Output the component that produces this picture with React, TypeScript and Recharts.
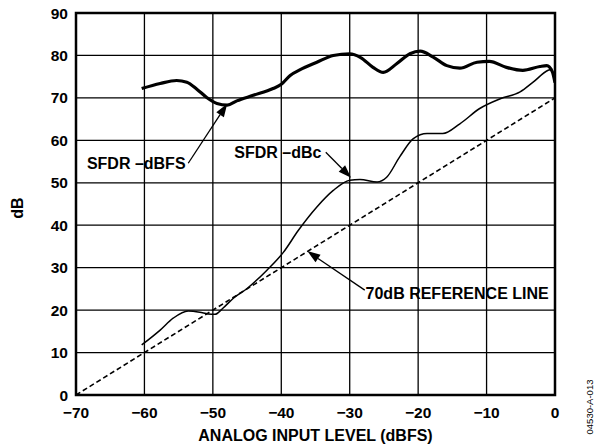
import React from 'react';
import { LineChart, Line, XAxis, YAxis, CartesianGrid, ReferenceLine, ReferenceDot, ReferenceArea } from 'recharts';

const xTicks = [-70, -60, -50, -40, -30, -20, -10, 0];
const yTicks = [0, 10, 20, 30, 40, 50, 60, 70, 80, 90];

const dbfsX = [-60.4, -57.7, -55.3, -53.8, -52.3, -50.9, -49.4, -47.9, -46.5, -44.1, -41.2, -40, -38.7, -37.3, -34.8, -32.4, -30, -28.4, -26.6, -25.1, -23.1, -21.2, -19.7, -17.8, -15.8, -13.9, -11.4, -9.6, -7.1, -4.7, -2.2, -1.2, -0.4, 0];
const dbfsY = [72.2, 73.4, 74.1, 73.7, 72.0, 70.1, 68.7, 68.3, 69.3, 70.6, 72.2, 73.2, 75.3, 76.6, 78.4, 80.0, 80.4, 79.5, 77.2, 76.0, 78.1, 80.4, 81.0, 79.6, 77.6, 77.0, 78.4, 78.6, 77.2, 76.5, 77.4, 77.6, 76.2, 73.6];

const dbcX = [-60.4, -57.7, -55.8, -53.6, -51.9, -50.7, -49.7, -48.5, -47, -45, -42.1, -39.7, -37.5, -34.8, -32.4, -30, -28.5, -26, -24.6, -22.7, -20.7, -18.7, -16.4, -13.9, -11, -8, -5.1, -3.2, -1, -0.4];
const dbcY = [11.8, 15.3, 18.1, 19.8, 19.5, 19.1, 19.0, 20.5, 22.8, 25.1, 29.4, 33.6, 38.8, 44.3, 48.2, 50.6, 50.8, 50.2, 51.3, 56.1, 60.4, 61.6, 61.6, 63.9, 67.5, 69.8, 71.4, 73.7, 76.5, 76.8];

const refX = [-70, 0];
const refY = [0, 70];

const dbfsData = dbfsX.map((x, i) => ({ x, y: dbfsY[i] }));
const dbcData = dbcX.map((x, i) => ({ x, y: dbcY[i] }));
const refData = refX.map((x, i) => ({ x, y: refY[i] }));

const labels = [
  { text: 'SFDR \u2013dBFS', x: -61.2, y: 54.6, tail: { x: -53.6, y: 54.6 }, head: { x: -47.9, y: 68.6 } },
  { text: 'SFDR \u2013dBc', x: -40.5, y: 57.2, tail: { x: -33.5, y: 57.2 }, head: { x: -29.8, y: 51.2 } },
  { text: '70dB REFERENCE LINE', x: -14.3, y: 24.0, tail: { x: -27.8, y: 24.7 }, head: { x: -36.2, y: 33.9 } },
];

const FONT = '"Liberation Sans", Arial, Helvetica, sans-serif';

const Arrow = (p: any) => {
  const { x1, y1, x2, y2 } = p;
  if ([x1, y1, x2, y2].some((v) => typeof v !== 'number' || isNaN(v))) return null;
  const dx = x2 - x1;
  const dy = y2 - y1;
  const len = Math.sqrt(dx * dx + dy * dy);
  const ux = dx / len;
  const uy = dy / len;
  const L = 13;
  const W = 4.5;
  const bx = x2 - ux * L;
  const by = y2 - uy * L;
  const pts = `${x2},${y2} ${bx - uy * W},${by + ux * W} ${bx + uy * W},${by - ux * W}`;
  return (
    <g>
      <line x1={x1} y1={y1} x2={bx} y2={by} stroke="#000" strokeWidth={1.3} />
      <polygon points={pts} fill="#000" />
    </g>
  );
};

const fmt = (v: number) => String(v).replace('-', '\u2212');

export default function App() {
  return (
    <div style={{ position: 'absolute', left: 0, top: 0, width: 600, height: 446, background: '#fff' }}>
      <LineChart width={600} height={446} margin={{ top: 13, right: 45, left: 0, bottom: 0 }}>
        <CartesianGrid stroke="#000" strokeWidth={1.3} horizontalValues={yTicks} verticalValues={xTicks} />
        <XAxis
          type="number"
          dataKey="x"
          domain={[-70, 0]}
          ticks={xTicks}
          tickFormatter={fmt}
          height={51}
          tickLine={false}
          axisLine={false}
          tickMargin={6}
          interval={0}
          allowDataOverflow
          tick={{ fill: '#000', fontSize: 15.5, fontWeight: 'bold', fontFamily: FONT }}
          label={{
            content: () => (
              <text x={315.5} y={441} textAnchor="middle" fill="#000" fontSize={16} fontWeight="bold" fontFamily={FONT}>
                ANALOG INPUT LEVEL (dBFS)
              </text>
            ),
          }}
        />
        <YAxis
          type="number"
          domain={[0, 90]}
          ticks={yTicks}
          width={76}
          tickLine={false}
          axisLine={false}
          interval={0}
          allowDataOverflow
          tick={{ fill: '#000', fontSize: 15.5, fontWeight: 'bold', fontFamily: FONT }}
          label={{
            content: () => (
              <text x={23} y={208} transform="rotate(-90 23 208)" textAnchor="middle" fill="#000" fontSize={16} fontWeight="bold" fontFamily={FONT}>
                dB
              </text>
            ),
          }}
        />
        <ReferenceArea x1={-70} x2={0} y1={0} y2={90} fill="none" stroke="#000" strokeWidth={2.5} fillOpacity={0} />
        <Line data={refData} dataKey="y" type="linear" stroke="#000" strokeWidth={1.6} strokeDasharray="5 3" dot={false} isAnimationActive={false} />
        <Line data={dbcData} dataKey="y" type="monotone" stroke="#000" strokeWidth={1.5} dot={false} isAnimationActive={false} />
        <Line data={dbfsData} dataKey="y" type="monotone" stroke="#000" strokeWidth={3.2} dot={false} isAnimationActive={false} />
        {labels.map((l) => (
          <ReferenceLine key={l.text + 'a'} segment={[l.tail, l.head]} shape={Arrow} ifOverflow="visible" />
        ))}
        {labels.map((l) => (
          <ReferenceDot
            key={l.text}
            x={l.x}
            y={l.y}
            r={0}
            fill="none"
            stroke="none"
            ifOverflow="visible"
            label={{ value: l.text, position: 'center', fill: '#000', fontSize: 16, fontWeight: 'bold', fontFamily: FONT }}
          />
        ))}
      </LineChart>
      <svg width={600} height={446} style={{ position: 'absolute', left: 0, top: 0, pointerEvents: 'none' }}>
        <text x={593} y={407} transform="rotate(-90 593 407)" textAnchor="middle" fill="#000" fontSize={9.5} fontFamily={FONT}>
          04530-A-013
        </text>
      </svg>
    </div>
  );
}
